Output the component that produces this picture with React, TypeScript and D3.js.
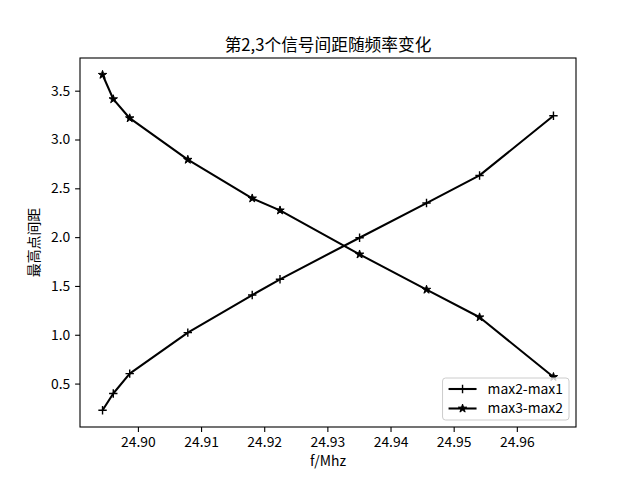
import React, { useEffect, useRef } from 'react';
import * as d3 from 'd3';

const freqs = [24.8944, 24.8961, 24.8987, 24.9079, 24.9181, 24.9225, 24.9351, 24.9457, 24.9541, 24.9658];
const max2max1 = [0.227, 0.398, 0.602, 1.022, 1.407, 1.568, 1.994, 2.349, 2.632, 3.243];
const max3max2 = [3.663, 3.413, 3.218, 2.793, 2.397, 2.274, 1.823, 1.462, 1.179, 0.568];
const seriesNames = ['max2-max1', 'max3-max2'];
const xTicks = [24.9, 24.91, 24.92, 24.93, 24.94, 24.95, 24.96];
const yTicks = [0.5, 1.0, 1.5, 2.0, 2.5, 3.0, 3.5];

const FONT = '"Noto Sans CJK SC", "DejaVu Sans", sans-serif';

const App = () => {
  const ref = useRef<HTMLDivElement>(null);

  useEffect(() => {
    document.body.style.margin = '0';
    d3.select(ref.current).selectAll('*').remove();

    const width = 640;
    const height = 480;
    const left = 80;
    const right = 576;
    const top = 58;
    const bottom = 427;

    const svg = d3
      .select(ref.current)
      .append('svg')
      .attr('width', width)
      .attr('height', height)
      .style('display', 'block')
      .style('font-family', FONT);

    svg.append('rect').attr('width', width).attr('height', height).attr('fill', 'white');

    // 5% margins like matplotlib
    const xExt = d3.extent(freqs) as [number, number];
    const xPad = (xExt[1] - xExt[0]) * 0.05;
    const allY = max2max1.concat(max3max2);
    const yExt = d3.extent(allY) as [number, number];
    const yPad = (yExt[1] - yExt[0]) * 0.05;

    const x = d3.scaleLinear().domain([xExt[0] - xPad, xExt[1] + xPad]).range([left, right]);
    const y = d3.scaleLinear().domain([yExt[0] - yPad, yExt[1] + yPad]).range([bottom, top]);

    // axes
    const xAxis = svg
      .append('g')
      .attr('transform', `translate(0, ${bottom})`)
      .call(d3.axisBottom(x).tickValues(xTicks).tickSize(4.9).tickPadding(4.9).tickFormat(d3.format('.2f')));
    const yAxis = svg
      .append('g')
      .attr('transform', `translate(${left}, 0)`)
      .call(d3.axisLeft(y).tickValues(yTicks).tickSize(4.9).tickPadding(4.9).tickFormat(d3.format('.1f')));

    [xAxis, yAxis].forEach((g) => {
      g.select('.domain').remove();
      g.selectAll('line').attr('stroke', 'black').attr('stroke-width', 1.1);
      g.selectAll('text').attr('font-size', 13.9).attr('font-family', FONT).attr('fill', 'black');
    });

    // frame
    svg
      .append('rect')
      .attr('x', left)
      .attr('y', top)
      .attr('width', right - left)
      .attr('height', bottom - top)
      .attr('fill', 'none')
      .attr('stroke', 'black')
      .attr('stroke-width', 1.1);

    const line = d3
      .line<number>()
      .x((_, i) => x(freqs[i]))
      .y((d) => y(d));

    const plus = 'M-4.2,0H4.2M0,-4.2V4.2';
    const star = d3.symbol().type(d3.symbolStar).size(22)() as string;

    const drawSeries = (vals: number[], kind: string) => {
      svg
        .append('path')
        .attr('d', line(vals))
        .attr('fill', 'none')
        .attr('stroke', 'black')
        .attr('stroke-width', 2.08)
        .attr('stroke-linejoin', 'round');
      svg
        .append('g')
        .selectAll('path')
        .data(vals)
        .join('path')
        .attr('transform', (d, i) => `translate(${x(freqs[i])}, ${y(d)})`)
        .attr('d', kind === 'plus' ? plus : star)
        .attr('fill', 'black')
        .attr('stroke', 'black')
        .attr('stroke-width', kind === 'plus' ? 1.4 : 1);
    };

    drawSeries(max2max1, 'plus');
    drawSeries(max3max2, 'star');

    // title and labels
    svg
      .append('text')
      .attr('x', (left + right) / 2)
      .attr('y', 51)
      .attr('text-anchor', 'middle')
      .attr('font-size', 16.7)
      .text('第2,3个信号间距随频率变化');

    svg
      .append('text')
      .attr('x', (left + right) / 2)
      .attr('y', 466)
      .attr('text-anchor', 'middle')
      .attr('font-size', 13.9)
      .text('f/Mhz');

    svg
      .append('text')
      .attr('transform', `translate(39, ${(top + bottom) / 2}) rotate(-90)`)
      .attr('text-anchor', 'middle')
      .attr('font-size', 13.9)
      .attr('fill', 'black')
      .text('最高点间距');

    // legend, lower right
    const legend = svg.append('g');
    const box = legend
      .append('rect')
      .attr('fill', 'white')
      .attr('fill-opacity', 0.8)
      .attr('stroke', '#cccccc')
      .attr('rx', 3);
    const labels = seriesNames.map((name, i) => {
      const gy = i * 19.5;
      legend
        .append('line')
        .attr('x1', 0)
        .attr('x2', 28)
        .attr('y1', gy)
        .attr('y2', gy)
        .attr('stroke', 'black')
        .attr('stroke-width', 2.08);
      legend
        .append('path')
        .attr('transform', `translate(14, ${gy})`)
        .attr('d', i === 0 ? plus : star)
        .attr('fill', 'black')
        .attr('stroke', 'black')
        .attr('stroke-width', i === 0 ? 1.4 : 1);
      return legend
        .append('text')
        .attr('x', 39)
        .attr('y', gy)
        .attr('dy', '0.35em')
        .attr('font-size', 13.9)
        .text(name);
    });
    const textW = d3.max(labels, (t) => (t.node() as SVGTextElement).getComputedTextLength()) || 60;
    const boxW = 39 + textW + 6 + 6;
    const boxH = 42;
    box.attr('x', -6).attr('y', -11).attr('width', boxW).attr('height', boxH);
    legend.attr('transform', `translate(${right - 7 - boxW + 6}, ${bottom - 7 - boxH + 11})`);
  }, []);

  return <div ref={ref} />;
};

export default App;
